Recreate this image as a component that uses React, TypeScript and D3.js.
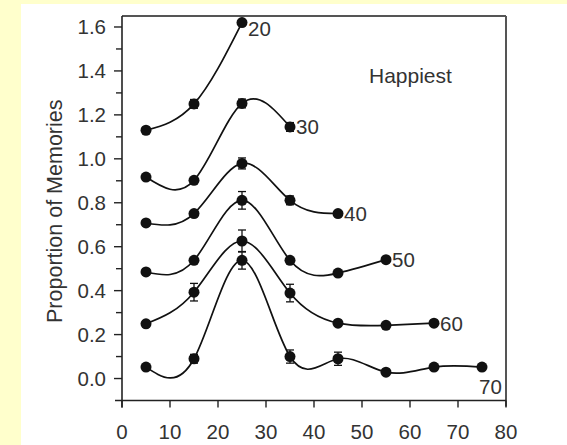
import React from "react";
import * as d3 from "d3";

const ages = [5, 15, 25, 35, 45, 55, 65, 75];
const seriesNames = ["20", "30", "40", "50", "60", "70"];
const s20 = [1.13, 1.25, 1.62];
const s30 = [0.917, 0.902, 1.252, 1.145];
const s40 = [0.708, 0.751, 0.979, 0.811, 0.751];
const s50 = [0.485, 0.538, 0.811, 0.538, 0.48, 0.541];
const s60 = [0.249, 0.393, 0.626, 0.389, 0.252, 0.242, 0.252];
const s70 = [0.052, 0.09, 0.538, 0.1, 0.09, 0.029, 0.052, 0.052];
const e20 = [0, 0.02, 0.01];
const e30 = [0, 0, 0.02, 0.02];
const e40 = [0, 0, 0.025, 0.02, 0];
const e50 = [0, 0, 0.04, 0, 0, 0];
const e60 = [0, 0.04, 0.05, 0.04, 0, 0, 0];
const e70 = [0, 0.02, 0.04, 0.03, 0.03, 0, 0, 0];
const xTicks = [0, 10, 20, 30, 40, 50, 60, 70, 80];
const yTicks = [0, 0.2, 0.4, 0.6, 0.8, 1.0, 1.2, 1.4, 1.6];
const yMinor = [0.1, 0.3, 0.5, 0.7, 0.9, 1.1, 1.3, 1.5];
const title = "Happiest";
const yTitle = "Proportion of Memories";

const allValues = [s20, s30, s40, s50, s60, s70];
const allErrors = [e20, e30, e40, e50, e60, e70];

const FONT = "'Liberation Sans', Arial, sans-serif";
const TXT = "#333";

export default function App() {
  const x = d3.scaleLinear().domain([0, 80]).range([122, 506]);
  const y = d3.scaleLinear().domain([-0.1, 1.65]).range([400.5, 16]);
  const line = d3
    .line<[number, number]>()
    .x((d) => x(d[0]))
    .y((d) => y(d[1]))
    .curve(d3.curveNatural);

  const left = x(0);
  const right = x(80);
  const top = y(1.65);
  const bottom = y(-0.1);

  return (
    <svg
      width={567}
      height={445}
      style={{ position: "fixed", left: 0, top: 0 }}
      fontFamily={FONT}
    >
      <rect x={0} y={0} width={567} height={445} fill="#FFFFCC" />
      <rect x={21} y={4} width={546} height={441} fill="#FFFFFF" />

      {/* frame */}
      <line x1={left} x2={right} y1={top} y2={top} stroke="#555" strokeWidth={2} />
      <line x1={right} x2={right} y1={top} y2={bottom + 6} stroke="#555" strokeWidth={2} />
      <line x1={left} x2={left} y1={top} y2={bottom + 7} stroke="#222" strokeWidth={1.6} />
      <line x1={left - 7} x2={right} y1={bottom} y2={bottom} stroke="#222" strokeWidth={1.6} />

      {/* y ticks */}
      {yTicks.map((t) => (
        <g key={"yt" + t}>
          <line x1={left - 8} x2={left} y1={y(t)} y2={y(t)} stroke="#222" strokeWidth={1.4} />
          <text
            x={left - 16}
            y={y(t)}
            dy="0.36em"
            textAnchor="end"
            fontSize={20.5}
            fill={TXT}
          >
            {t.toFixed(1)}
          </text>
        </g>
      ))}
      {yMinor.map((t) => (
        <line key={"ym" + t} x1={left - 6} x2={left} y1={y(t)} y2={y(t)} stroke="#222" strokeWidth={1.4} />
      ))}

      {/* x ticks */}
      {xTicks.map((t) => (
        <g key={"xt" + t}>
          <line x1={x(t)} x2={x(t)} y1={bottom} y2={bottom + 7} stroke="#222" strokeWidth={1.4} />
          <text x={x(t)} y={bottom + 38} textAnchor="middle" fontSize={20.5} fill={TXT}>
            {t}
          </text>
        </g>
      ))}

      {/* axis title */}
      <text
        transform={`translate(62, ${(top + bottom) / 2 + 3}) rotate(-90)`}
        textAnchor="middle"
        fontSize={21.5}
        fill={TXT}
      >
        {yTitle}
      </text>
      <text x={369} y={83} fontSize={21} fill={TXT}>
        {title}
      </text>

      {/* series */}
      {allValues.map((vals, si) => {
        const pts: [number, number][] = vals.map((v, i) => [ages[i], v]);
        const errs = allErrors[si];
        const last = pts[pts.length - 1];
        const name = seriesNames[si];
        const isLastSeries = si === allValues.length - 1;
        const lx = isLastSeries ? x(last[0]) - 3 : x(last[0]) + 6;
        const ly = isLastSeries ? y(last[1]) + 27 : y(last[1]) + (si === 0 ? 13 : 7.5);
        return (
          <g key={name}>
            <path d={line(pts) || ""} fill="none" stroke="#111" strokeWidth={1.7} />
            {pts.map((p, i) =>
              errs[i] > 0 ? (
                <g key={"e" + i} stroke="#111" strokeWidth={1.3}>
                  <line x1={x(p[0])} x2={x(p[0])} y1={y(p[1] - errs[i])} y2={y(p[1] + errs[i])} />
                  <line x1={x(p[0]) - 4} x2={x(p[0]) + 4} y1={y(p[1] - errs[i])} y2={y(p[1] - errs[i])} />
                  <line x1={x(p[0]) - 4} x2={x(p[0]) + 4} y1={y(p[1] + errs[i])} y2={y(p[1] + errs[i])} />
                </g>
              ) : null
            )}
            {pts.map((p, i) => (
              <circle key={"c" + i} cx={x(p[0])} cy={y(p[1])} r={5.5} fill="#111" />
            ))}
            <text x={lx} y={ly} fontSize={20.5} fill={TXT}>
              {name}
            </text>
          </g>
        );
      })}
    </svg>
  );
}
